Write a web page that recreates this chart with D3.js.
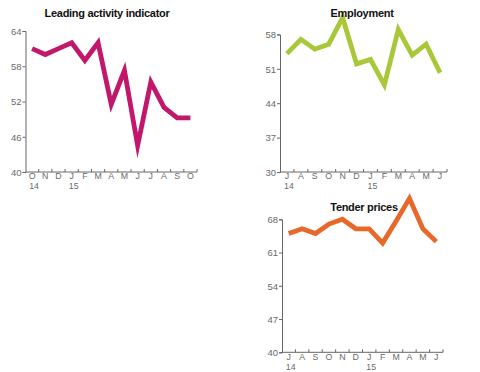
<!DOCTYPE html>
<html><head><meta charset="utf-8">
<script src="https://cdn.jsdelivr.net/npm/d3@7"></script>
<style>
body{margin:0;background:#fff;}
svg{display:block;font-family:"Liberation Sans",Arial,sans-serif;}
</style></head>
<body>
<svg id="c" width="480" height="372"></svg>
<script>
const leadMonths = ["O","N","D","J","F","M","A","M","J","J","A","S","O"];
const leadYears = {0:"14",3:"15"};
const leadValues = [61,60,61,62,59,62,51.5,57.3,44.5,55.3,51,49.2,49.2];
const leadTicks = [40,46,52,58,64];

const empMonths = ["J","A","S","O","N","D","J","F","M","A","M","J"];
const empYears = {0:"14",6:"15"};
const empValues = [54.1,57,55,56,61.4,52,52.9,47.7,59,53.8,56,50.2];
const empTicks = [30,37,44,51,58];

const tenderMonths = ["J","A","S","O","N","D","J","F","M","A","M","J"];
const tenderYears = {0:"14",6:"15"};
const tenderValues = [65,66,65,67,68,66,66,63,67.6,72.4,66,63.3];
const tenderTicks = [40,47,54,61,68];

const svg = d3.select("#c");

function panel(cfg){
  const g = svg.append("g");
  const x = d3.scaleBand().domain(cfg.months.map((d,i)=>i)).range([cfg.x0,cfg.x1]);
  const y = d3.scaleLinear().domain([cfg.ticks[0],cfg.ticks[cfg.ticks.length-1]]).range([cfg.y0,cfg.y1]);
  const ya = d3.axisLeft(y).tickValues(cfg.ticks).tickSize(3).tickPadding(1).tickFormat(d3.format("d"));
  const yg = g.append("g").attr("transform",`translate(${cfg.x0},0)`).call(ya);
  yg.select(".domain").attr("stroke","#666");
  yg.selectAll(".tick line").attr("stroke","#666");
  yg.selectAll("text").attr("fill","#6a6a6a").attr("font-size",9.5).attr("dy","0.35em");
  g.append("line").attr("x1",cfg.x0).attr("x2",cfg.x1).attr("y1",cfg.y0).attr("y2",cfg.y0).attr("stroke","#666");
  const edges = cfg.months.map((d,i)=>x(i)+x.bandwidth());
  g.selectAll(".xt").data(edges).enter().append("line")
    .attr("x1",d=>d).attr("x2",d=>d).attr("y1",cfg.y0).attr("y2",cfg.y0-3).attr("stroke","#666");
  g.selectAll(".xl").data(cfg.months).enter().append("text")
    .attr("x",(d,i)=>x(i)+x.bandwidth()/2).attr("y",cfg.y0+7.2)
    .attr("text-anchor","middle").attr("font-size",8.8).attr("fill","#6a6a6a").text(d=>d);
  Object.entries(cfg.years).forEach(([i,t])=>{
    g.append("text").attr("x",x(+i)+x.bandwidth()/2+2).attr("y",cfg.y0+17.2)
     .attr("text-anchor","middle").attr("font-size",8.8).attr("fill","#6a6a6a").text(t);
  });
  const line = d3.line().x((d,i)=>x(i)+x.bandwidth()/2).y(d=>y(d));
  g.append("path").datum(cfg.values).attr("d",line).attr("fill","none")
   .attr("stroke",cfg.color).attr("stroke-width",4.8).attr("stroke-linejoin","miter").attr("stroke-miterlimit",10);
  g.append("text").attr("x",cfg.tx).attr("y",cfg.ty).attr("text-anchor","middle")
   .attr("font-size",11).attr("font-weight","bold").attr("fill","#111").attr("letter-spacing","-0.3")
   .text(cfg.title);
}

panel({months:leadMonths,years:leadYears,values:leadValues,ticks:leadTicks,
  x0:25.5,x1:197,y0:172,y1:31,color:"#c2186b",title:"Leading activity indicator",tx:107,ty:17});
panel({months:empMonths,years:empYears,values:empValues,ticks:empTicks,
  x0:280,x1:447,y0:172,y1:34.4,color:"#a8c83a",title:"Employment",tx:362,ty:17});
panel({months:tenderMonths,years:tenderYears,values:tenderValues,ticks:tenderTicks,
  x0:282,x1:443,y0:352.3,y1:219.3,color:"#e8682a",title:"Tender prices",tx:364,ty:211});
</script>
</body></html>
